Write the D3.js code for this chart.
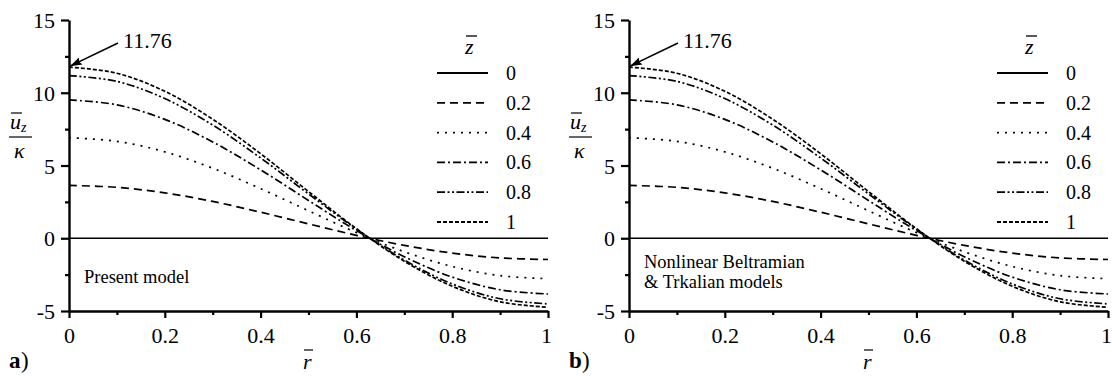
<!DOCTYPE html>
<html>
<head>
<meta charset="utf-8">
<script src="https://cdn.jsdelivr.net/npm/d3@7"></script>
<style>
  body { margin: 0; background: #fff; }
  text { font-family: "Liberation Serif", "Times New Roman", serif; fill: #000; }
</style>
</head>
<body>
<script>
// r values where the curves were read
var rVals = [0, 0.1, 0.2, 0.3, 0.4, 0.5, 0.6, 0.7, 0.8, 0.9, 1];

// u_z / kappa for each z
var u00 = [0, 0, 0, 0, 0, 0, 0, 0, 0, 0, 0];
var u02 = [3.63, 3.50, 3.12, 2.53, 1.79, 0.99, 0.20, -0.49, -1.02, -1.35, -1.46];
var u04 = [6.91, 6.66, 5.94, 4.81, 3.41, 1.89, 0.39, -0.93, -1.94, -2.57, -2.78];
var u06 = [9.51, 9.17, 8.17, 6.62, 4.70, 2.60, 0.53, -1.27, -2.67, -3.54, -3.83];
var u08 = [11.18, 10.78, 9.60, 7.78, 5.52, 3.05, 0.63, -1.50, -3.14, -4.16, -4.51];
var u10 = [11.76, 11.34, 10.10, 8.18, 5.81, 3.21, 0.66, -1.58, -3.30, -4.37, -4.74];

var zLabels = ["0", "0.2", "0.4", "0.6", "0.8", "1"];
var xTicks = [0, 0.2, 0.4, 0.6, 0.8, 1];
var xMinor = [0.1, 0.3, 0.5, 0.7, 0.9];
var yTicks = [-5, 0, 5, 10, 15];
var yMinor = [-2.5, 2.5, 7.5, 12.5];
var peakLabel = "11.76";

var allSeries = [u00, u02, u04, u06, u08, u10];
var dashes = ["none", "8,5", "2,6", "8,3,2,3", "8,2.5,2,2.5,2,2.5", "4,2"];

var svg = d3.select("body").append("svg")
  .attr("width", 1112)
  .attr("height", 376);

svg.append("defs").append("marker")
  .attr("id", "arr")
  .attr("viewBox", "0 0 12 8")
  .attr("refX", 12).attr("refY", 4)
  .attr("markerWidth", 12).attr("markerHeight", 8)
  .attr("markerUnits", "userSpaceOnUse")
  .attr("orient", "auto")
  .append("path").attr("d", "M0,0 L12,4 L0,8 L2,4 z").attr("fill", "#000");

function drawPanel(ox, letter, noteLines) {
  var g = svg.append("g").attr("transform", "translate(" + ox + ",0)");

  var x = d3.scaleLinear().domain([0, 1]).range([69, 548]);
  var y = d3.scaleLinear().domain([-5, 15]).range([311, 20]);

  // curves
  var line = d3.line()
    .x(function(d, i) { return x(rVals[i]); })
    .y(function(d) { return y(d); })
    .curve(d3.curveCatmullRom.alpha(0.5));

  allSeries.forEach(function(s, k) {
    g.append("path")
      .attr("d", line(s))
      .attr("fill", "none")
      .attr("stroke", "#000")
      .attr("stroke-width", 1.7)
      .attr("stroke-dasharray", dashes[k]);
  });

  // axes (plain hyphen for negatives, like the original)
  var fmt = function(d) { return String(d); };
  var xAx = g.append("g").attr("transform", "translate(0," + y(-5) + ")")
    .call(d3.axisBottom(x).tickValues(xTicks).tickSizeInner(7).tickSizeOuter(0).tickFormat(fmt));
  g.append("g").attr("transform", "translate(0," + y(-5) + ")")
    .call(d3.axisBottom(x).tickValues(xMinor).tickSize(4).tickFormat(""))
    .select(".domain").remove();

  var yAx = g.append("g").attr("transform", "translate(" + x(0) + ",0)")
    .call(d3.axisLeft(y).tickValues(yTicks).tickSizeInner(8).tickSizeOuter(0).tickFormat(fmt));
  g.append("g").attr("transform", "translate(" + x(0) + ",0)")
    .call(d3.axisLeft(y).tickValues(yMinor).tickSize(4).tickFormat(""))
    .select(".domain").remove();

  g.selectAll(".domain").attr("stroke-width", 2.4);
  g.selectAll(".tick line").attr("stroke-width", 2.2);
  xAx.selectAll("text").attr("font-size", 22).attr("y", 16).attr("dy", "0.71em")
    .attr("x", function(d) { return d == 1 ? -2 : 0; });
  yAx.selectAll("text").attr("font-size", 22).attr("x", -14).attr("dy", "0.35em");

  // peak annotation
  g.append("line")
    .attr("x1", 118).attr("y1", 43)
    .attr("x2", x(0) + 1).attr("y2", y(11.76) - 1)
    .attr("stroke", "#000").attr("stroke-width", 1.6)
    .attr("marker-end", "url(#arr)");
  g.append("text").attr("x", 123).attr("y", 48).attr("font-size", 22).text(peakLabel);

  // legend
  var lg = g.append("g");
  lg.append("text").attr("x", 465).attr("y", 54).attr("font-size", 22)
    .attr("font-style", "italic").text("z");
  lg.append("line").attr("x1", 466).attr("x2", 477).attr("y1", 36).attr("y2", 36)
    .attr("stroke", "#000").attr("stroke-width", 1.3);
  zLabels.forEach(function(lab, k) {
    var yy = 73 + k * 29.8;
    lg.append("line").attr("x1", 437).attr("x2", 488).attr("y1", yy).attr("y2", yy)
      .attr("stroke", "#000").attr("stroke-width", 1.8)
      .attr("stroke-dasharray", dashes[k]);
    lg.append("text").attr("x", 506).attr("y", yy + 7).attr("font-size", 20).text(lab);
  });

  // y axis label: u_z over kappa
  var yl = g.append("g");
  yl.append("text").attr("x", 10).attr("y", 129).attr("font-size", 22)
    .attr("font-style", "italic").text("u");
  yl.append("text").attr("x", 21).attr("y", 132).attr("font-size", 14)
    .attr("font-style", "italic").text("z");
  yl.append("line").attr("x1", 11).attr("x2", 22).attr("y1", 113).attr("y2", 113)
    .attr("stroke", "#000").attr("stroke-width", 1.2);
  yl.append("line").attr("x1", 9).attr("x2", 32).attr("y1", 137).attr("y2", 137)
    .attr("stroke", "#000").attr("stroke-width", 1.2);
  yl.append("text").attr("x", 14).attr("y", 158).attr("font-size", 22)
    .attr("font-style", "italic").text("κ");

  // x axis label
  g.append("text").attr("x", 303).attr("y", 369).attr("font-size", 22)
    .attr("font-style", "italic").text("r");
  g.append("line").attr("x1", 304).attr("x2", 313).attr("y1", 350).attr("y2", 350)
    .attr("stroke", "#000").attr("stroke-width", 1.2);

  // panel tag
  g.append("text").attr("x", 9).attr("y", 368).attr("font-size", 23)
    .attr("font-weight", "bold").text(letter);
  g.append("text").attr("x", 9 + (letter == "a" ? 12 : 13)).attr("y", 368).attr("font-size", 23)
    .text(")");

  noteLines.forEach(function(t, i) {
    g.append("text").attr("x", 84).attr("y", (noteLines.length == 1 ? 283 : 268) + i * 20)
      .attr("font-size", 18.5).text(t);
  });
}

drawPanel(0, "a", ["Present model"]);
drawPanel(560, "b", ["Nonlinear Beltramian", "& Trkalian models"]);
</script>
</body>
</html>
